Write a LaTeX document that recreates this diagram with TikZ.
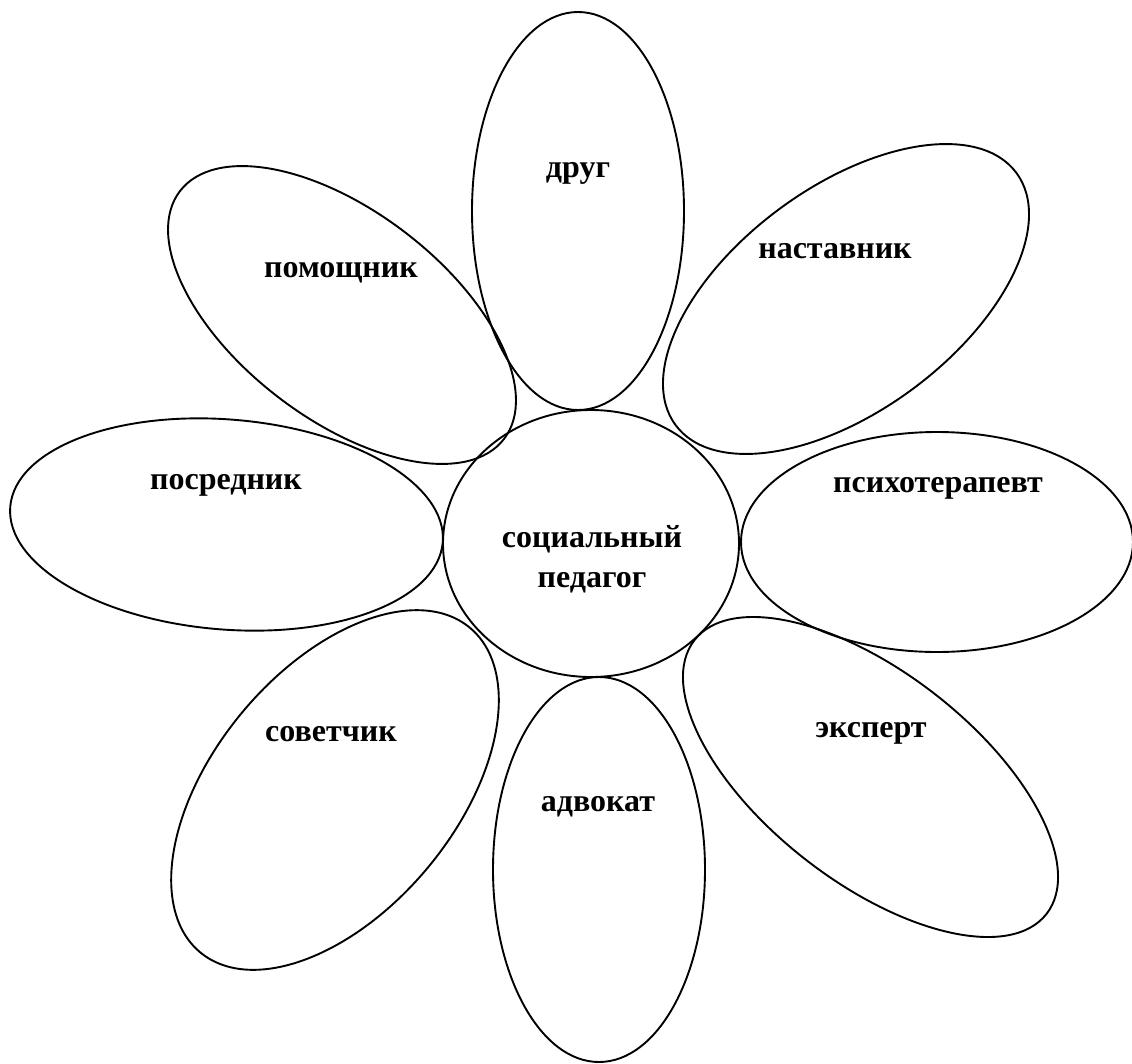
\documentclass[tikz,border=0pt]{standalone}
\usepackage{fontspec}
\setmainfont{Liberation Serif}
\begin{document}
\begin{tikzpicture}[x=1pt,y=-1pt,
  petal/.style={draw=black, line width=1.9pt},
  lbl/.style={font=\bfseries\fontsize{32}{40}\selectfont, inner sep=0pt, align=center, anchor=base}]
\useasboundingbox (0,0) rectangle (1132,1063);
\clip (0,0) rectangle (1132,1063);
% petals
\draw[petal] (578,211) ellipse [x radius=106pt, y radius=199pt];
\draw[petal, rotate around={-37.4:(342,315)}] (342,315) ellipse [x radius=204pt, y radius=104pt];
\draw[petal, rotate around={36.5:(846,299)}] (846,299) ellipse [x radius=212pt, y radius=112pt];
\draw[petal, rotate around={-4.7:(226.5,524.5)}] (226.5,524.5) ellipse [x radius=217pt, y radius=105pt];
\draw[petal] (937,542) ellipse [x radius=196pt, y radius=110pt];
\draw[petal, rotate around={50.3:(335,790)}] (335,790) ellipse [x radius=211pt, y radius=121pt];
\draw[petal, rotate around={-37.85:(870.5,777)}] (870.5,777) ellipse [x radius=223pt, y radius=105pt];
\draw[petal] (599,869.5) ellipse [x radius=106pt, y radius=192.5pt];
% centre
\draw[petal] (591,543.5) ellipse [x radius=148pt, y radius=133.5pt];
% labels
\node[lbl] (drug) at (578,177) {друг};
\node[lbl] (pomoshchnik) at (341,277) {помощник};
\node[lbl] (nastavnik) at (835,258) {наставник};
\node[lbl] (posrednik) at (226,489) {посредник};
\node[lbl] (psikhoterapevt) at (938,492) {психотерапевт};
\node[lbl] (socped1) at (592,547) {социальный};
\node[lbl] (socped2) at (592,587) {педагог};
\node[lbl] (sovetchik) at (331,741) {советчик};
\node[lbl] (ekspert) at (871,737) {эксперт};
\node[lbl] (advokat) at (598,811) {адвокат};
\end{tikzpicture}
\end{document}
